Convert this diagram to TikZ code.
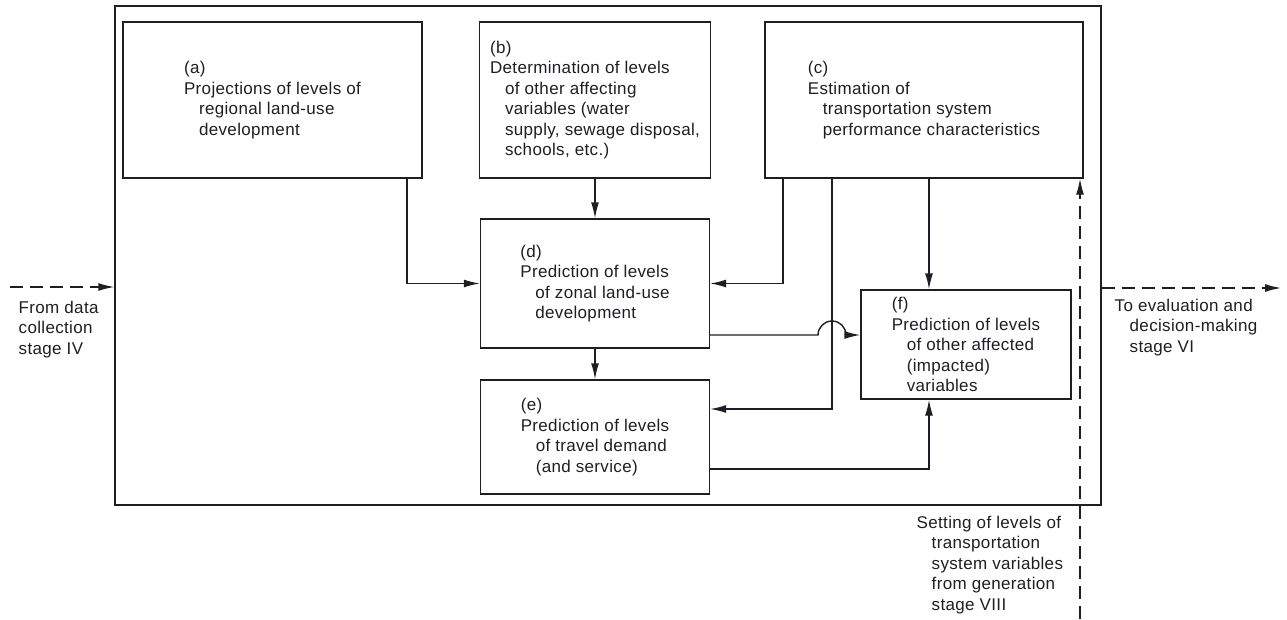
\documentclass[tikz,border=0pt]{standalone}
\usepackage{fontspec}
\setmainfont{Liberation Sans}[LetterSpace=2]
\usetikzlibrary{arrows.meta,calc}
\newcommand{\indt}{\hspace*{15pt}}
\definecolor{ink}{RGB}{30,30,36}
\begin{document}
\begin{tikzpicture}[x=1pt,y=-1pt,line width=1.4pt,draw=ink,
  every node/.style={font=\fontsize{17}{20.5}\selectfont,text=ink},
  blk/.style={draw,shape=rectangle,align=left,inner sep=0pt},
  flow/.style={-{Latex[length=16pt,width=8pt]}},
  dline/.style={dash pattern=on 13pt off 7pt,-{Latex[length=16pt,width=8pt]}}]

  \useasboundingbox (0,0) rectangle (1287,619);

  \path (608,255.5) node[draw,minimum width=986pt,minimum height=499pt] (frame) {};

  \path (272.5,100) node[blk,minimum width=299pt,minimum height=156pt] (a)
    {(a)\\Projections of levels of\\\indt regional land-use\\\indt development};
  \path (595,100) node[blk,minimum width=231pt,minimum height=156pt] (b)
    {(b)\\Determination of levels\\\indt of other affecting\\\indt variables (water\\\indt supply, sewage disposal,\\\indt schools, etc.)};
  \path (924,100) node[blk,minimum width=318pt,minimum height=156pt] (c)
    {(c)\\Estimation of\\\indt transportation system\\\indt performance characteristics};
  \path (595,283.5) node[blk,minimum width=229pt,minimum height=129pt] (d)
    {(d)\\Prediction of levels\\\indt of zonal land-use\\\indt development};
  \path (595,437) node[blk,minimum width=229pt,minimum height=114pt] (e)
    {(e)\\Prediction of levels\\\indt of travel demand\\\indt (and service)};
  \path (966,344.5) node[blk,minimum width=210pt,minimum height=109pt] (f)
    {(f)\\Prediction of levels\\\indt of other affected\\\indt (impacted)\\\indt variables};

  \path (18,300) node[anchor=north west,inner sep=0pt,align=left] (src)
    {From data\\collection\\stage IV};
  \path (1114,298) node[anchor=north west,inner sep=0pt,align=left] (dst)
    {To evaluation and\\\indt decision-making\\\indt stage VI};
  \path (916,515) node[anchor=north west,inner sep=0pt,align=left] (gen)
    {Setting of levels of\\\indt transportation\\\indt system variables\\\indt from generation\\\indt stage VIII};

  \coordinate (in) at (10,287);
  \coordinate (out) at (1281,288);
  \coordinate (up) at (1080,619);
  \coordinate (a1) at ([xshift=134.5pt]a.south);
  \coordinate (c1) at ([xshift=-141pt]c.south);
  \coordinate (c2) at ([xshift=-92pt]c.south);
  \coordinate (c3) at ([xshift=5pt]c.south);
  \coordinate (d1) at ([yshift=-51.5pt]d.east);
  \coordinate (e1) at ([yshift=28pt]e.east);
  \coordinate (e2) at ([yshift=-32pt]e.east);

  \draw[flow] (a1) |- (d.west);
  \draw[flow] (b) -- (d);
  \draw[flow] (c1) |- (d.east);
  \draw[flow] (c2) |- (e1);
  \draw[flow] (c3) -- (c3 |- f.north);
  \draw[flow] (d) -- (e);
  \draw[flow] (d1) -- ($(c2 |- d1)+(-14,0)$) arc[start angle=180,end angle=0,radius=14pt] -- (d1 -| f.west);
  \draw[flow] (e2) -| (c3 |- f.south);

  \draw[dline] (in) -- (in -| frame.west);
  \draw[dline] (out -| frame.east) -- (out);
  \draw[dline] (up) -- (up |- c.south);

\end{tikzpicture}
\end{document}
